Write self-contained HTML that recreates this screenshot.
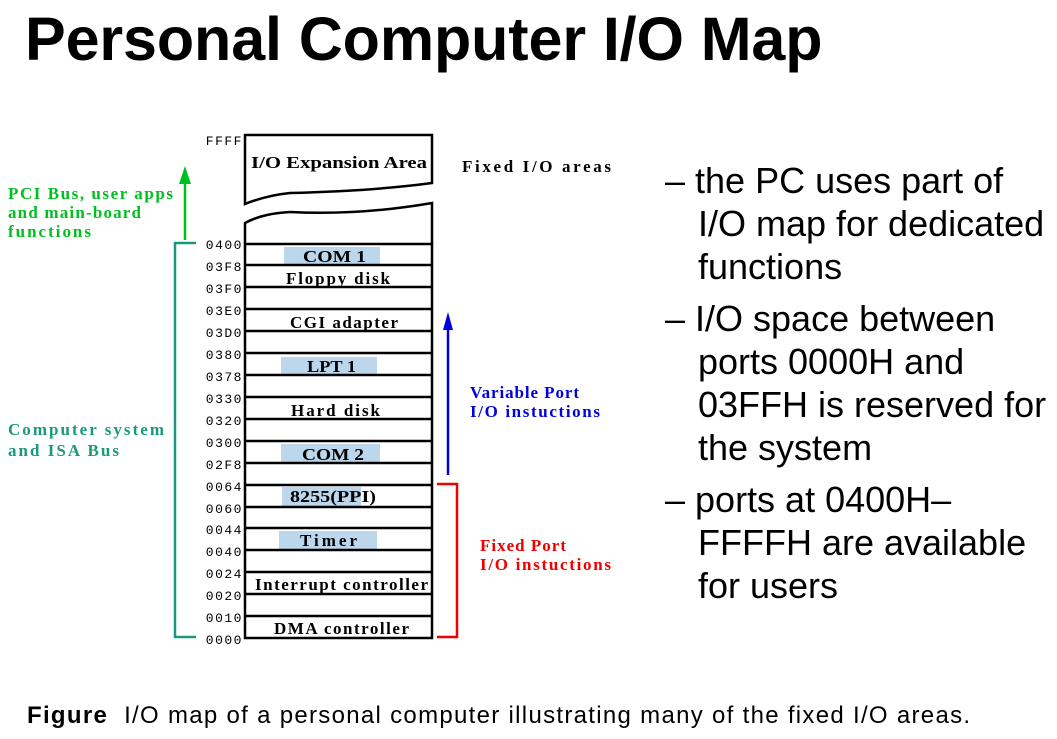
<!DOCTYPE html>
<html><head><style>
body{margin:0;width:1057px;height:739px;background:#fff;position:relative;overflow:hidden;font-family:"Liberation Sans",sans-serif}
.t{position:absolute;white-space:nowrap}
.r{font-size:36px;line-height:43px}
</style></head><body>
<div class="t" style="left:25px;top:4px;font-size:61px;font-weight:bold;letter-spacing:-0.1px">Personal Computer I/O Map</div>
<svg width="1057" height="739" style="position:absolute;left:0;top:0" font-family="Liberation Serif" font-weight="bold">
<g fill="#bcd7ec">
<rect x="284" y="247" width="96" height="18"/><rect x="281" y="357" width="96" height="18"/>
<rect x="281" y="444" width="99" height="19"/>
<rect x="282" y="487" width="79" height="20"/><rect x="279" y="531" width="98" height="19"/>
</g>
<g stroke="#000" stroke-width="2.5" fill="none">
<path d="M245,135 H432 V183 C380,190 330,192 290,193 C270,195 255,200 245,204 Z"/>
<path d="M245,244 V223 C260,215 275,213 290,212 C330,214 380,212 432,203 V244"/>
<rect x="245" y="244" width="187" height="394"/>
</g>
<g stroke="#000" stroke-width="2.5">
<line x1="245" y1="265" x2="432" y2="265"/><line x1="245" y1="287" x2="432" y2="287"/><line x1="245" y1="309" x2="432" y2="309"/><line x1="245" y1="331" x2="432" y2="331"/><line x1="245" y1="353" x2="432" y2="353"/><line x1="245" y1="375" x2="432" y2="375"/><line x1="245" y1="397" x2="432" y2="397"/><line x1="245" y1="419" x2="432" y2="419"/><line x1="245" y1="441" x2="432" y2="441"/><line x1="245" y1="463" x2="432" y2="463"/><line x1="245" y1="485" x2="432" y2="485"/><line x1="245" y1="507" x2="432" y2="507"/><line x1="245" y1="528" x2="432" y2="528"/><line x1="245" y1="550" x2="432" y2="550"/><line x1="245" y1="572" x2="432" y2="572"/><line x1="245" y1="594" x2="432" y2="594"/><line x1="245" y1="616" x2="432" y2="616"/>
</g>
<g font-family="Liberation Mono" font-weight="normal" font-size="13" fill="#000" text-anchor="end" letter-spacing="1.5">
<text x="243" y="145">FFFF</text>
<text x="243" y="249">0400</text><text x="243" y="271">03F8</text><text x="243" y="293">03F0</text><text x="243" y="315">03E0</text><text x="243" y="337">03D0</text><text x="243" y="359">0380</text><text x="243" y="381">0378</text><text x="243" y="403">0330</text><text x="243" y="425">0320</text><text x="243" y="447">0300</text><text x="243" y="469">02F8</text><text x="243" y="491">0064</text><text x="243" y="513">0060</text><text x="243" y="534">0044</text><text x="243" y="556">0040</text><text x="243" y="578">0024</text><text x="243" y="600">0020</text><text x="243" y="622">0010</text><text x="243" y="644">0000</text>
</g>
<g font-size="17" fill="#000">
<text x="251" y="168" textLength="176" lengthAdjust="spacingAndGlyphs">I/O Expansion Area</text>
<text x="303" y="262" textLength="63" lengthAdjust="spacingAndGlyphs">COM 1</text>
<text x="286" y="284" textLength="104" lengthAdjust="spacing">Floppy disk</text>
<text x="290" y="328" textLength="108" lengthAdjust="spacing">CGI adapter</text>
<text x="307" y="372" textLength="49" lengthAdjust="spacingAndGlyphs">LPT 1</text>
<text x="291" y="416" textLength="89" lengthAdjust="spacing">Hard disk</text>
<text x="302" y="460" textLength="62" lengthAdjust="spacingAndGlyphs">COM 2</text>
<text x="290" y="502" textLength="86" lengthAdjust="spacingAndGlyphs">8255(PPI)</text>
<text x="300" y="546" textLength="57" lengthAdjust="spacing">Timer</text>
<text x="255" y="590" textLength="173" lengthAdjust="spacing">Interrupt controller</text>
<text x="274" y="634" textLength="135" lengthAdjust="spacing">DMA controller</text>
<text x="462" y="172" textLength="149" lengthAdjust="spacing">Fixed I/O areas</text>
</g>
<g fill="#00c020" font-size="17">
<text x="8" y="199" textLength="165" lengthAdjust="spacing">PCI Bus, user apps</text><text x="8" y="218" textLength="133" lengthAdjust="spacing">and main-board</text><text x="8" y="237" textLength="83" lengthAdjust="spacing">functions</text>
</g>
<line x1="185" y1="240" x2="185" y2="180" stroke="#00c020" stroke-width="2.5"/>
<polygon points="185,166 179,184 191,184" fill="#00c020"/>
<path d="M196,243 H175 V637 H196" stroke="#1a9a7a" stroke-width="2.5" fill="none"/>
<g fill="#1a9a7a" font-size="17"><text x="8" y="435" textLength="156" lengthAdjust="spacing">Computer system</text><text x="8" y="456" textLength="111" lengthAdjust="spacing">and ISA Bus</text></g>
<line x1="448" y1="475" x2="448" y2="326" stroke="#0000e0" stroke-width="2.5"/>
<polygon points="448,312 443,330 453,330" fill="#0000e0"/>
<g fill="#0000e0" font-size="17"><text x="470" y="398" textLength="109" lengthAdjust="spacing">Variable Port</text><text x="470" y="417" textLength="130" lengthAdjust="spacing">I/O instuctions</text></g>
<path d="M437,484 H457 V637 H437" stroke="#f00000" stroke-width="2.5" fill="none"/>
<g fill="#f00000" font-size="17"><text x="480" y="551" textLength="86" lengthAdjust="spacing">Fixed Port</text><text x="480" y="570" textLength="131" lengthAdjust="spacing">I/O instuctions</text></g>
</svg>
<div class="t r" style="left:665px;top:159px">– the PC uses part of<br><span style="padding-left:33px">I/O map for dedicated</span><br><span style="padding-left:33px">functions</span></div>
<div class="t r" style="left:665px;top:297px">– I/O space between<br><span style="padding-left:33px">ports 0000H and</span><br><span style="padding-left:33px">03FFH is reserved for</span><br><span style="padding-left:33px">the system</span></div>
<div class="t r" style="left:665px;top:478px">– ports at 0400H–<br><span style="padding-left:33px">FFFFH are available</span><br><span style="padding-left:33px">for users</span></div>
<div class="t" style="left:27px;top:702px;font-size:24px;letter-spacing:1.3px"><b>Figure</b>&nbsp; I/O map of a personal computer illustrating many of the fixed I/O areas.</div>
</body></html>
